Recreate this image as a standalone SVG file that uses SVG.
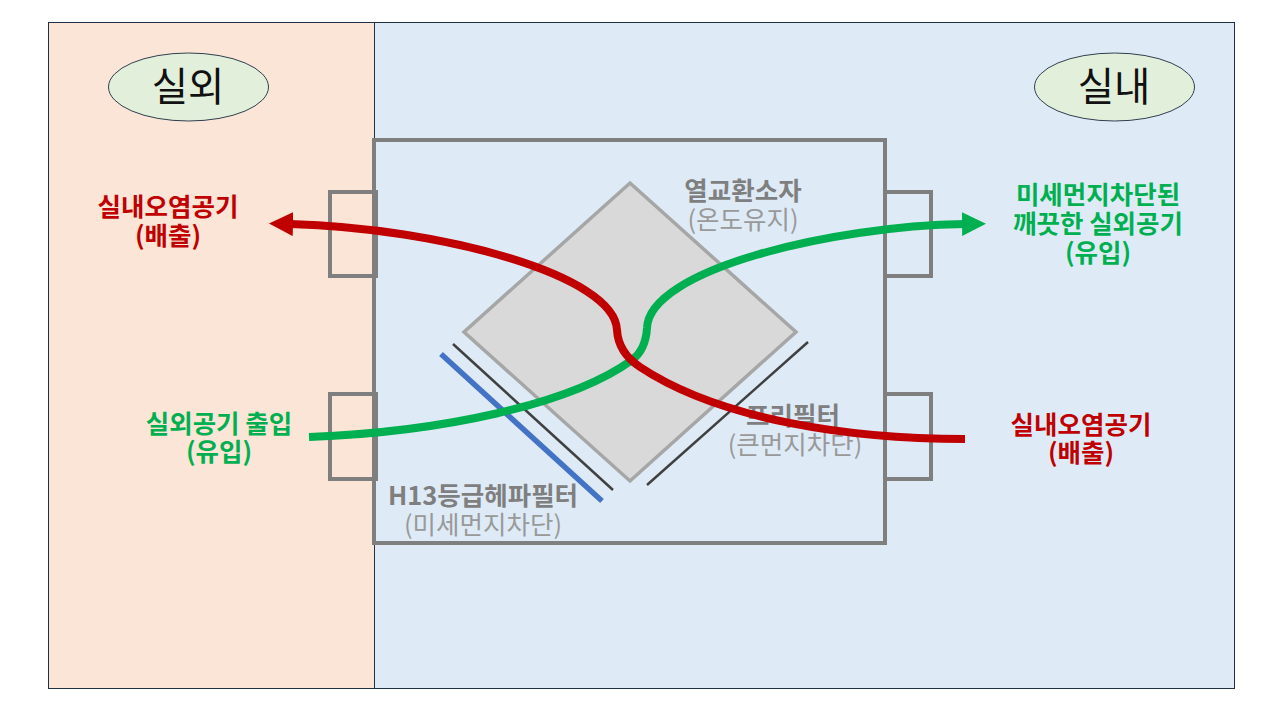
<svg xmlns="http://www.w3.org/2000/svg" width="1280" height="720" viewBox="0 0 1280 720">
<style>
text{font-family:"Noto Sans CJK KR","Noto Sans",sans-serif;text-anchor:middle}
.z{stroke:#203040;stroke-width:1}
.ell{fill:#e2efda;stroke:#2f3f50;stroke-width:1}
.big{font-size:39.500px;fill:#111}
.gb{fill:none;stroke:#7f7f7f;stroke-width:4}
.b{font-size:25.500px;font-weight:700}
.n{font-size:25.500px;fill:#999;font-weight:400}
.gt{fill:#7f7f7f}
.r{fill:#c00000}
.g{fill:#00b050}
.flow{fill:none;stroke-width:8}
</style>
<defs>
<marker id="ar" markerUnits="userSpaceOnUse" markerWidth="26" markerHeight="26" refX="3" refY="12" orient="auto"><path d="M0 0L24 12L0 24Z" fill="#c00000"/></marker>
<marker id="ag" markerUnits="userSpaceOnUse" markerWidth="26" markerHeight="26" refX="3" refY="12" orient="auto"><path d="M0 0L24 12L0 24Z" fill="#00b050"/></marker>
</defs>
<rect width="1280" height="720" fill="#fff"/>
<g id="outdoor"><rect class="z" x="48.500" y="22.500" width="326" height="666" fill="#fbe5d6"/></g>
<g id="indoor"><rect class="z" x="374.500" y="22.500" width="860" height="666" fill="#deebf7"/></g>
<g id="label-outdoor"><ellipse class="ell" cx="188.500" cy="87" rx="80" ry="34"/><text class="big" x="188" y="101">실외</text></g>
<g id="label-indoor"><ellipse class="ell" cx="1114.500" cy="87" rx="80" ry="34"/><text class="big" x="1114" y="101">실내</text></g>
<g id="unit"><rect class="gb" x="374" y="140" width="511" height="403"/></g>
<g id="port-tl"><rect class="gb" x="330" y="192" width="46" height="84"/></g>
<g id="port-bl"><rect class="gb" x="330" y="394" width="46" height="85"/></g>
<g id="port-tr"><path class="gb" d="M885 192H931V276H885"/></g>
<g id="port-br"><path class="gb" d="M885 394H931V479H885"/></g>
<g id="exchanger"><path d="M630 183L796 332L630 481L464 332Z" fill="#d9d9d9" stroke="#a6a6a6" stroke-width="3.500"/></g>
<g id="pre-filter-line"><path d="M808 342L647 485" stroke="#404040" stroke-width="2.500"/></g>
<g id="hepa-black"><path d="M453 344L613 490" stroke="#404040" stroke-width="2.500"/></g>
<g id="hepa-blue"><path d="M441 354L602 501" stroke="#4472c4" stroke-width="5.500"/></g>
<g id="label-exchanger"><text class="b gt" x="743" y="200">열교환소자</text><text class="n" x="743" y="229">(온도유지)</text></g>
<g id="label-pre"><text class="b gt" x="793" y="425">프리필터</text><text class="n" x="795" y="454">(큰먼지차단)</text></g>
<g id="label-hepa"><text class="b gt" x="483" y="505">H13등급헤파필터</text><text class="n" x="483" y="534">(미세먼지차단)</text></g>
<g id="connectors">
<path class="flow" stroke="#00b050" marker-end="url(#ag)" d="M309 437C440 432 570 405 632 360C640 354 646 345 647 328C649 270 830 226 965 224"/>
<path class="flow" stroke="#c00000" marker-end="url(#ar)" d="M965 439C850 439 720 420 640 367C628 359 618 348 617 330C615 275 440 228 290 224"/>
</g>
<g id="label-out-exhaust"><text class="b r" x="168" y="216">실내오염공기</text><text class="b r" x="168" y="245">(배출)</text></g>
<g id="label-in-clean"><text class="b g" x="1098" y="204">미세먼지차단된</text><text class="b g" x="1098" y="233">깨끗한 실외공기</text><text class="b g" x="1098" y="262">(유입)</text></g>
<g id="label-out-intake"><text class="b g" x="219" y="433">실외공기 출입</text><text class="b g" x="219" y="461">(유입)</text></g>
<g id="label-in-exhaust"><text class="b r" x="1081" y="434">실내오염공기</text><text class="b r" x="1081" y="462">(배출)</text></g>
</svg>
